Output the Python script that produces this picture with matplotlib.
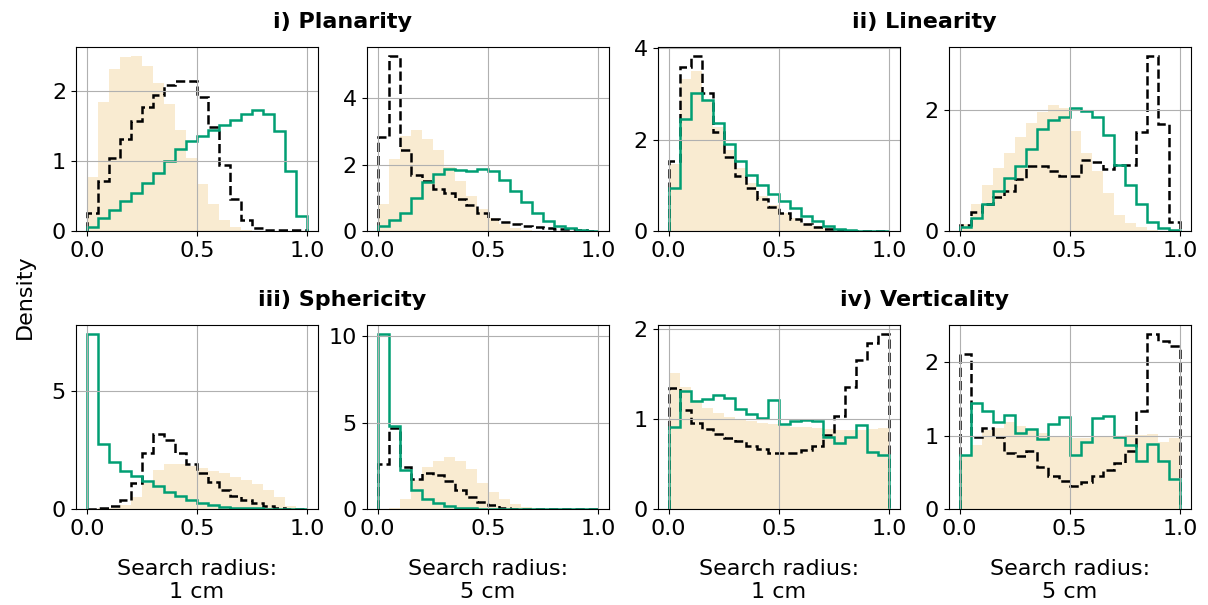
import numpy as np
import matplotlib.pyplot as plt
from matplotlib.ticker import MaxNLocator

plt.rcParams['font.size'] = 16

edges = np.linspace(0, 1, 21)

# filled = all points, dashed = black class, solid = green class
plan_1_fill = [0.78, 1.84, 2.32, 2.48, 2.50, 2.36, 2.12, 1.81, 1.44, 1.04,
               0.68, 0.39, 0.17, 0.07, 0.02, 0.01, 0.0, 0.0, 0.0, 0.0]
plan_1_dash = [0.27, 0.72, 1.05, 1.32, 1.58, 1.77, 1.95, 2.09, 2.15, 2.15,
               1.91, 1.49, 0.94, 0.46, 0.17, 0.05, 0.02, 0.02, 0.02, 0.02]
plan_1_solid = [0.07, 0.19, 0.31, 0.43, 0.55, 0.69, 0.84, 1.00, 1.17, 1.29,
                1.36, 1.45, 1.52, 1.59, 1.68, 1.73, 1.68, 1.43, 0.86, 0.22]

plan_5_fill = [0.83, 2.18, 2.87, 3.04, 2.78, 2.45, 1.92, 1.50, 1.06, 0.66,
               0.40, 0.22, 0.09, 0.03, 0.02, 0.01, 0.0, 0.0, 0.0, 0.0]
plan_5_dash = [2.84, 5.25, 2.45, 1.70, 1.50, 1.26, 1.14, 0.98, 0.78, 0.56,
               0.37, 0.27, 0.21, 0.17, 0.14, 0.11, 0.08, 0.06, 0.04, 0.02]
plan_5_solid = [0.15, 0.34, 0.56, 1.01, 1.48, 1.73, 1.88, 1.85, 1.80, 1.88,
                1.80, 1.55, 1.21, 0.88, 0.56, 0.32, 0.17, 0.10, 0.05, 0.02]

lin_1_fill = [1.46, 3.31, 3.49, 2.86, 2.27, 1.78, 1.38, 1.05, 0.77, 0.57,
              0.41, 0.29, 0.19, 0.12, 0.08, 0.05, 0.03, 0.02, 0.01, 0.01]
lin_1_dash = [1.53, 3.58, 3.82, 3.01, 2.16, 1.62, 1.20, 0.95, 0.71, 0.53,
              0.40, 0.27, 0.17, 0.10, 0.05, 0.03, 0.02, 0.01, 0.01, 0.01]
lin_1_solid = [0.95, 2.44, 3.02, 2.86, 2.36, 1.90, 1.53, 1.24, 1.01, 0.82,
               0.66, 0.52, 0.34, 0.22, 0.12, 0.06, 0.04, 0.02, 0.01, 0.01]

lin_5_fill = [0.12, 0.45, 0.76, 1.05, 1.29, 1.55, 1.78, 1.96, 2.08, 2.03,
              1.66, 1.29, 0.99, 0.64, 0.27, 0.14, 0.07, 0.03, 0.01, 0.01]
lin_5_dash = [0.11, 0.32, 0.46, 0.56, 0.66, 0.86, 1.08, 1.08, 0.99, 0.92,
              0.92, 1.17, 1.14, 1.03, 1.10, 1.10, 1.63, 2.89, 1.77, 0.16]
lin_5_solid = [0.07, 0.23, 0.45, 0.66, 0.88, 1.08, 1.36, 1.68, 1.84, 1.88,
               2.04, 1.98, 1.89, 1.59, 1.10, 0.76, 0.46, 0.15, 0.05, 0.02]

sph_1_fill = [0.01, 0.04, 0.08, 0.18, 0.51, 1.12, 1.66, 1.90, 1.90, 1.83,
              1.73, 1.63, 1.52, 1.35, 1.24, 1.07, 0.84, 0.51, 0.14, 0.03]
sph_1_dash = [0.01, 0.04, 0.14, 0.39, 1.10, 2.39, 3.20, 2.95, 2.39, 1.94,
              1.54, 1.17, 0.84, 0.56, 0.39, 0.28, 0.14, 0.07, 0.03, 0.01]
sph_1_solid = [7.42, 2.75, 2.01, 1.63, 1.40, 1.19, 0.98, 0.74, 0.56, 0.39,
               0.25, 0.18, 0.11, 0.07, 0.05, 0.04, 0.03, 0.02, 0.01, 0.01]

sph_5_fill = [0.02, 0.10, 0.63, 1.70, 2.46, 2.81, 3.04, 2.81, 2.31, 1.54,
              1.02, 0.58, 0.31, 0.15, 0.06, 0.03, 0.01, 0.0, 0.0, 0.0]
sph_5_dash = [2.62, 4.71, 2.46, 1.73, 2.08, 1.98, 1.65, 1.12, 0.69, 0.42,
              0.25, 0.10, 0.04, 0.02, 0.02, 0.01, 0.01, 0.01, 0.01, 0.01]
sph_5_solid = [10.15, 4.85, 2.27, 1.12, 0.58, 0.35, 0.19, 0.10, 0.07, 0.05,
               0.03, 0.02, 0.02, 0.01, 0.01, 0.01, 0.01, 0.01, 0.01, 0.01]

vert_1_fill = [1.52, 1.36, 1.22, 1.13, 1.07, 1.03, 1.00, 0.98, 0.96, 0.95,
               0.93, 0.92, 0.91, 0.90, 0.89, 0.88, 0.88, 0.88, 0.89, 0.90]
vert_1_dash = [1.35, 1.10, 0.96, 0.89, 0.84, 0.79, 0.76, 0.71, 0.67, 0.63,
               0.63, 0.63, 0.66, 0.71, 0.83, 1.04, 1.36, 1.66, 1.85, 1.95]
vert_1_solid = [0.91, 1.31, 1.20, 1.23, 1.27, 1.24, 1.12, 1.06, 1.01, 1.22,
                0.95, 0.98, 0.99, 0.98, 0.81, 0.74, 0.81, 0.94, 0.64, 0.61]

vert_5_fill = [0.74, 0.88, 1.08, 1.11, 1.18, 1.13, 1.08, 1.03, 0.99, 0.98,
               0.97, 0.97, 1.00, 0.99, 0.99, 1.01, 1.01, 1.02, 0.92, 0.97]
vert_5_dash = [2.11, 0.98, 1.10, 0.98, 0.76, 0.73, 0.79, 0.58, 0.45, 0.39,
               0.32, 0.37, 0.45, 0.53, 0.63, 0.79, 1.34, 2.38, 2.28, 2.22]
vert_5_solid = [0.74, 1.44, 1.34, 1.19, 1.28, 1.03, 1.09, 0.95, 1.16, 1.25,
                0.74, 0.91, 1.24, 1.26, 0.98, 0.87, 0.65, 0.89, 0.66, 0.41]

panels = [
    [(plan_1_fill, plan_1_dash, plan_1_solid), (plan_5_fill, plan_5_dash, plan_5_solid),
     (lin_1_fill, lin_1_dash, lin_1_solid), (lin_5_fill, lin_5_dash, lin_5_solid)],
    [(sph_1_fill, sph_1_dash, sph_1_solid), (sph_5_fill, sph_5_dash, sph_5_solid),
     (vert_1_fill, vert_1_dash, vert_1_solid), (vert_5_fill, vert_5_dash, vert_5_solid)],
]
titles = [["i) Planarity", "ii) Linearity"], ["iii) Sphericity", "iv) Verticality"]]
radius_labels = ["Search radius:\n1 cm", "Search radius:\n5 cm"] * 2

fig, axes = plt.subplots(2, 4, figsize=(12.08, 6.05), dpi=100)
fig.subplots_adjust(left=0.0627, right=0.9859, bottom=0.158, top=0.922,
                    wspace=0.2, hspace=0.508)

for r in range(2):
    for c in range(4):
        ax = axes[r, c]
        fill, dash, solid = panels[r][c]
        ax.stairs(fill, edges, fill=True, color='wheat', alpha=0.6, lw=0)
        ax.stairs(dash, edges, color='black', ls='--', lw=1.8)
        ax.stairs(solid, edges, color='#009E73', lw=1.8)
        ax.grid(True)
        ax.yaxis.set_major_locator(MaxNLocator(3, steps=[1, 2, 2.5, 5, 10]))
        ax.xaxis.set_major_locator(MaxNLocator(3, steps=[1, 2, 2.5, 5, 10]))
        if r == 1:
            ax.set_xlabel(radius_labels[c], labelpad=14)

for r in range(2):
    for k in range(2):
        p0 = axes[r, 2 * k].get_position()
        p1 = axes[r, 2 * k + 1].get_position()
        cx = (p0.x0 + p1.x1) / 2
        ty = p0.y1 + 0.042
        fig.text(cx, ty, titles[r][k], ha='center', va='center', fontweight='bold')

fig.text(0.021, 0.51, "Density", rotation=90, ha='center', va='center')

fig.savefig("out.png", dpi=100)
